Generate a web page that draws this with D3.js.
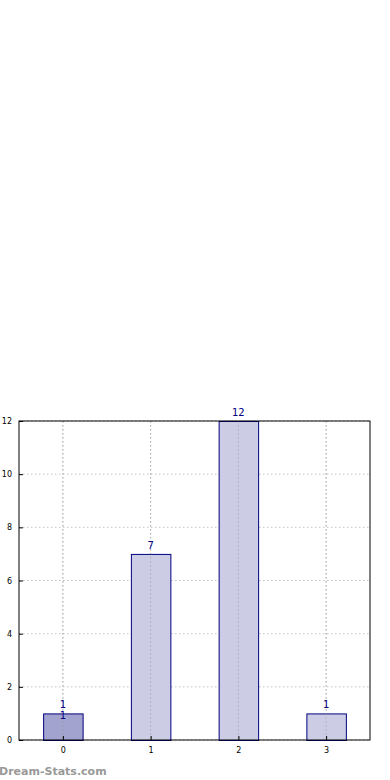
<!DOCTYPE html>
<html>
<head>
<meta charset="utf-8">
<script src="https://cdn.jsdelivr.net/npm/d3@7"></script>
<style>
  body { margin: 0; background: #fff; }
  svg { display: block; font-family: "DejaVu Sans", sans-serif; }
</style>
</head>
<body>
<svg id="chart" width="390" height="780"></svg>
<script>
// data
let categories = [0, 1, 2, 3];
let counts = [1, 7, 12, 1];
let yTicks = [0, 2, 4, 6, 8, 10, 12];
let barFills = ["#a3a3cf", "#ccccE5", "#ccccE5", "#ccccE5"];

let margin = { left: 19, right: 20, top: 421, bottom: 40 };
let svg = d3.select("#chart");
let W = 390, H = 780;

let x = d3.scaleLinear().domain([-0.5, 3.5]).range([margin.left, W - margin.right]);
let y = d3.scaleLinear().domain([0, 12]).range([H - margin.bottom, margin.top]);
let barW = 0.45;

// grille pointillée
svg.append("g").selectAll("line")
    .data(yTicks)
    .join("line")
    .attr("x1", margin.left).attr("x2", W - margin.right)
    .attr("y1", d => y(d)).attr("y2", d => y(d))
    .attr("stroke", "#c4c4c4").attr("stroke-width", 1)
    .attr("stroke-dasharray", "1.5,2.5");

svg.append("g").selectAll("line")
    .data(categories)
    .join("line")
    .attr("x1", d => x(d)).attr("x2", d => x(d))
    .attr("y1", margin.top).attr("y2", H - margin.bottom)
    .attr("stroke", "#c4c4c4").attr("stroke-width", 1)
    .attr("stroke-dasharray", "1.5,2.5");

// barres
svg.append("g").selectAll("rect")
    .data(counts)
    .join("rect")
    .attr("x", (d, i) => x(categories[i] - barW / 2) + 0.5)
    .attr("y", d => y(d) + 0.5)
    .attr("width", x(barW) - x(0))
    .attr("height", d => y(0) - y(d))
    .attr("fill", (d, i) => barFills[i])
    .attr("stroke", "#000080").attr("stroke-width", 1);

// grille par-dessus les barres (comme dans l'original)
svg.append("g").selectAll("line")
    .data(categories)
    .join("line")
    .attr("x1", d => x(d)).attr("x2", d => x(d))
    .attr("y1", margin.top).attr("y2", H - margin.bottom)
    .attr("stroke", "#999").attr("stroke-width", 1).attr("opacity", 0.6)
    .attr("stroke-dasharray", "1.5,2.5");

// cadre
svg.append("rect")
    .attr("x", margin.left).attr("y", margin.top)
    .attr("width", W - margin.right - margin.left)
    .attr("height", H - margin.bottom - margin.top)
    .attr("fill", "none").attr("stroke", "#000").attr("stroke-width", 1);

// axes
let axeY = d3.axisLeft(y).tickValues(yTicks).tickSize(-4).tickPadding(7);
svg.append("g")
    .attr("transform", `translate(${margin.left},0)`)
    .call(axeY)
    .call(g => g.select(".domain").remove())
    .call(g => g.selectAll("text").attr("font-size", "8px").attr("font-family", "DejaVu Sans").attr("fill", "#000"));

let axeX = d3.axisBottom(x).tickValues(categories).tickFormat(d3.format("d")).tickSize(-4).tickPadding(7);
svg.append("g")
    .attr("transform", `translate(0,${H - margin.bottom})`)
    .call(axeX)
    .call(g => g.select(".domain").remove())
    .call(g => g.selectAll("text").attr("font-size", "8px").attr("font-family", "DejaVu Sans").attr("fill", "#000"));

// étiquettes de valeurs
svg.append("g").selectAll("text")
    .data(counts)
    .join("text")
    .attr("x", (d, i) => x(categories[i]))
    .attr("y", d => y(d) - 5)
    .attr("text-anchor", "middle")
    .attr("font-size", "10px")
    .attr("fill", "#000080")
    .text(d => d);

// le "1" en double sur la première barre (juste en dessous du premier)
svg.append("text")
    .attr("x", x(categories[0]))
    .attr("y", y(counts[0]) + 6)
    .attr("text-anchor", "middle")
    .attr("font-size", "10px")
    .attr("fill", "#000080")
    .text(counts[0]);

// filigrane
svg.append("text")
    .attr("x", -1).attr("y", 775)
    .attr("font-size", "11px").attr("font-weight", "bold")
    .attr("fill", "#999")
    .text("Dream-Stats.com");
</script>
</body>
</html>
